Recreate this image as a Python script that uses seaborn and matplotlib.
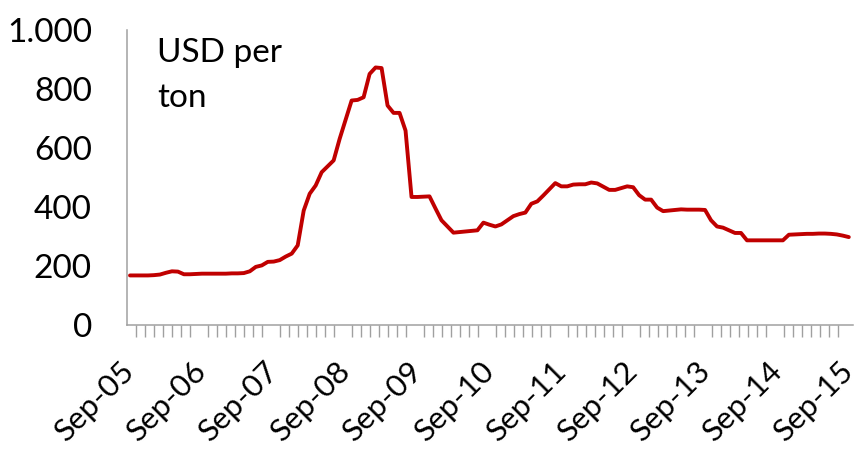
import numpy as np
import pandas as pd
import matplotlib
matplotlib.use("Agg")
import matplotlib.pyplot as plt
import matplotlib.transforms as mtransforms
from matplotlib.ticker import FixedLocator, FuncFormatter
import seaborn as sns

# Monthly price, Sep-05 .. Sep-15 (USD per ton)
months = np.arange(121)
price = [
    168, 168, 168, 168, 169, 171, 177, 182, 181, 172,
    172, 173, 174, 174, 174, 174, 174, 175, 175, 176,
    182, 197, 202, 214, 215, 220, 232, 242, 270, 388,
    445, 473, 518, 538, 558, 631, 696, 761, 763, 772,
    851, 873, 871, 744, 719, 719, 659, 434, 434, 435,
    436, 395, 355, 334, 313, 315, 317, 319, 321, 347,
    340, 334, 341, 355, 369, 376, 381, 411, 419, 439,
    460, 481, 470, 470, 476, 477, 477, 483, 480, 469,
    458, 458, 464, 470, 467, 440, 425, 425, 398, 386,
    388, 390, 392, 391, 391, 391, 390, 355, 334, 330,
    321, 312, 312, 287, 287, 287, 287, 287, 287, 287,
    306, 307, 308, 309, 309, 310, 310, 309, 307, 303,
    298,
]
year_labels = ["Sep-05", "Sep-06", "Sep-07", "Sep-08", "Sep-09", "Sep-10",
               "Sep-11", "Sep-12", "Sep-13", "Sep-14", "Sep-15"]
y_ticks = [0, 200, 400, 600, 800, 1000]

sns.set_theme(style="white")
plt.rcParams["font.family"] = ["Lato", "DejaVu Sans"]

W, H = 858, 449
fig = plt.figure(figsize=(W / 100, H / 100), dpi=100)
ax = fig.add_axes([126.7 / W, 1 - 325 / H, (853 - 126.7) / W, (325 - 30) / H])

df = pd.DataFrame({"month": months, "price": price})
sns.lineplot(data=df, x="month", y="price", ax=ax, color="#C00000",
             linewidth=2.8, solid_joinstyle="round", solid_capstyle="round")

grey = "#A0A0A0"
ax.set_xlim(-0.55, 120.7)
ax.set_ylim(0, 1000)

# tick every 1.5 months, label every 12 months
step = 1.5025
minor_pos = [-0.55 + step * k for k in range(81)]
major_pos = [-0.55 + step * 8 * j for j in range(len(year_labels))]
ax.xaxis.set_major_locator(FixedLocator(major_pos))
ax.xaxis.set_minor_locator(FixedLocator(minor_pos))
ax.set_xticklabels(year_labels)
ax.yaxis.set_major_locator(FixedLocator(y_ticks))
ax.yaxis.set_major_formatter(FuncFormatter(lambda v, p: f"{v:,.0f}".replace(",", ".")))

ax.set_xlabel("")
ax.set_ylabel("")

for s in ["top", "right"]:
    ax.spines[s].set_visible(False)
for s in ["left", "bottom"]:
    ax.spines[s].set_color(grey)
    ax.spines[s].set_linewidth(1.1)

ax.tick_params(axis="both", which="both", direction="out", color=grey,
               width=1.0, length=8.6, labelcolor="black")
ax.tick_params(axis="y", pad=16.5, labelsize=24)
ax.tick_params(axis="x", which="major", pad=21, labelsize=22.5)
ax.tick_params(axis="x", which="minor", bottom=True)

shift = mtransforms.ScaledTranslation(3 / 100, 0, fig.dpi_scale_trans)
for lab in ax.get_xticklabels():
    lab.set_rotation(45)
    lab.set_ha("right")
    lab.set_va("center")
    lab.set_rotation_mode("anchor")
    lab.set_transform(lab.get_transform() + shift)

fig.text(157 / W, 1 - 38 / H, "USD per\nton", fontsize=24, va="top", ha="left",
         linespacing=1.62, color="black")

fig.savefig("out.png", dpi=100, facecolor="white")
